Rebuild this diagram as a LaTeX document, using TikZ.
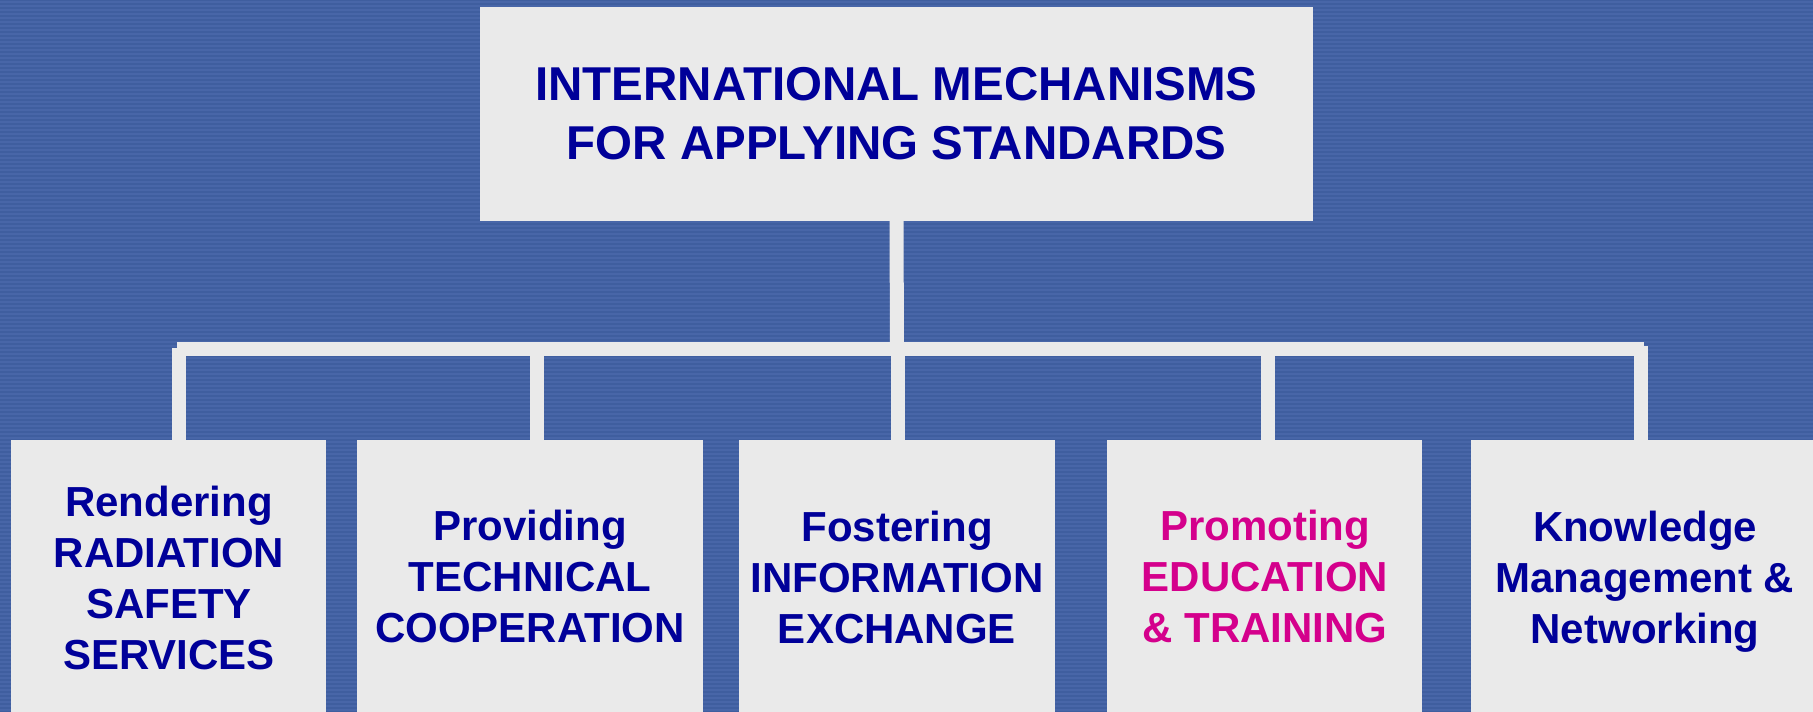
\documentclass[tikz,border=0pt]{standalone}
\usepackage{fontspec}
\setmainfont{Liberation Sans}
\definecolor{bgblue}{HTML}{3F5E9F}
\definecolor{stripe}{HTML}{4866A8}
\definecolor{boxgray}{HTML}{EAEAEA}
\definecolor{inkblue}{HTML}{000099}
\definecolor{inkpink}{HTML}{D4008C}
\begin{document}
\begin{tikzpicture}[x=1pt,y=-1pt,
  box/.style={rectangle, fill=boxgray, draw=none, inner sep=0pt},
  link/.style={draw=boxgray, line width=14pt, line cap=butt},
  headtext/.style={anchor=north, inner sep=0pt, align=center, text=inkblue,
    font=\fontsize{47.5}{59}\selectfont\bfseries},
  leaftext/.style={anchor=north, inner sep=0pt, align=center, text=inkblue,
    font=\fontsize{42}{51}\selectfont\bfseries}]
  % canvas and striped backdrop
  \useasboundingbox (0,0) rectangle (1813,712);
  \fill[bgblue] (0,0) rectangle (1813,712);
  \foreach \yy in {1,5,...,712} {
    \fill[stripe] (0,\yy) rectangle (1813,\yy+1.6);
  }

  % root box
  \node[box, minimum width=833pt, minimum height=214pt] (top) at (896.5,114) {};
  \node[headtext] (toptext) at (896.5,67) {INTERNATIONAL MECHANISMS\\FOR APPLYING STANDARDS};

  % leaf boxes (run off the lower edge)
  \node[box, minimum width=315pt, minimum height=280pt] (c1) at (168.5,580) {};
  \node[box, minimum width=346pt, minimum height=280pt] (c2) at (530,580) {};
  \node[box, minimum width=316pt, minimum height=280pt] (c3) at (897,580) {};
  \node[box, minimum width=315pt, minimum height=280pt] (c4) at (1264.5,580) {};
  \node[box, minimum width=352pt, minimum height=280pt] (c5) at (1647,580) {};

  \node[leaftext] (t1) at (169,486) {Rendering\\RADIATION\\SAFETY\\SERVICES};
  \node[leaftext] (t2) at (530,510) {Providing\\TECHNICAL\\COOPERATION};
  \node[leaftext] (t3) at (897,511) {Fostering\\INFORMATION\\EXCHANGE};
  \node[leaftext, text=inkpink] (t4) at (1265,510) {Promoting\\EDUCATION\\\& TRAINING};
  \node[leaftext] (t5) at (1645,511) {Knowledge\\Management \&\\Networking};

  % connector tree
  \coordinate (hub) at (897,349);
  \coordinate (bl) at (177,349);
  \coordinate (br) at (1644,349);
  \coordinate (d1) at (179,348);
  \coordinate (d2) at (537,349);
  \coordinate (d3) at (898,349);
  \coordinate (d4) at (1268,349);
  \coordinate (d5) at (1641,346);

  \draw[link] (top.south) -- (hub);
  \draw[link] (bl) -- (br);
  \draw[link] (d1) -- (d1 |- c1.north);
  \draw[link] (d2) -- (d2 |- c2.north);
  \draw[link] (d3) -- (d3 |- c3.north);
  \draw[link] (d4) -- (d4 |- c4.north);
  \draw[link] (d5) -- (d5 |- c5.north);
\end{tikzpicture}
\end{document}
